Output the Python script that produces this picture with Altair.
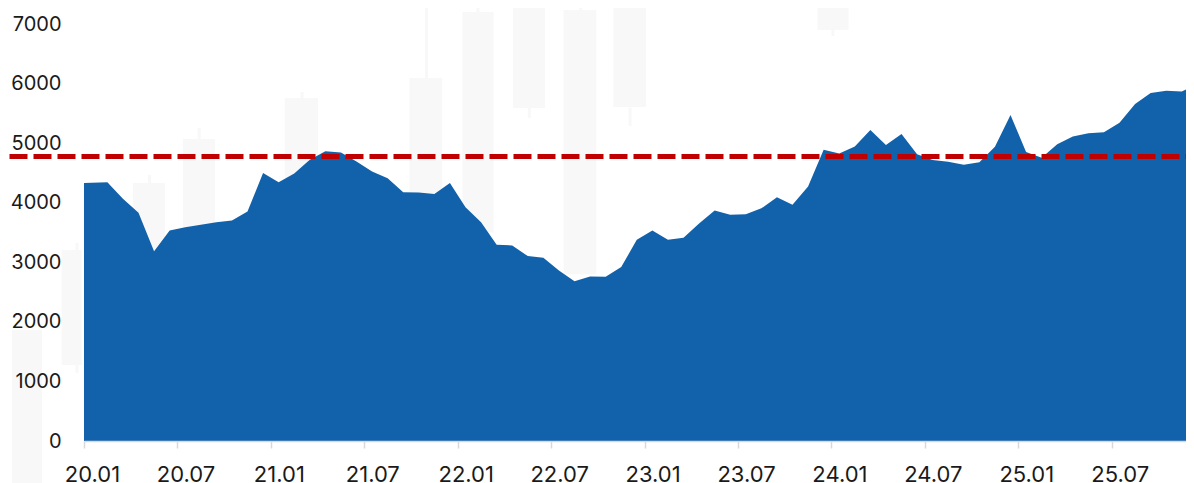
import altair as alt
import pandas as pd

# Monthly series, Dec 2019 .. Dec 2025
months = [str(p) for p in pd.period_range("2019-12", "2025-12", freq="M")]
values = [
    4330,                                                        # 2019-12
    4335, 4343, 4065, 3830, 3187, 3534, 3589, 3629, 3673, 3701, 3852, 4500,  # 2020
    4343, 4490, 4720, 4862, 4845, 4690, 4525, 4410, 4175, 4170, 4148, 4333,  # 2021
    3924, 3673, 3294, 3283, 3104, 3077, 2864, 2680, 2763, 2758, 2919, 3378,  # 2022
    3534, 3378, 3411, 3650, 3869, 3797, 3805, 3905, 4091, 3964, 4271, 4888,  # 2023
    4828, 4944, 5220, 4969, 5153, 4812, 4718, 4689, 4639, 4678, 4941, 5472,  # 2024
    4850, 4753, 4980, 5110, 5166, 5181, 5342, 5656, 5840, 5878, 5865, 5990,  # 2025
]
reference_level = 4776

# faint background candles (month-index units, value units)
candle_x0 = [-4.62, -1.43, 3.15, 6.36, 12.9, 20.9, 24.3, 27.55, 30.8, 34.0, 47.1]
candle_x1 = [-2.70, -0.15, 5.20, 8.41, 15.03, 23.0, 26.3, 29.6, 32.9, 36.1, 49.1]
body_lo = [-800, 1276, 2500, 3000, 3500, 3500, 3500, 5590, 2800, 5607, 6900]
body_hi = [1863, 3206, 4331, 5070, 5758, 6094, 7202, 7700, 7235, 7700, 7700]
wick_x = [-0.45, 4.2, 7.4, 14.0, 22.0, 25.3, 28.6, 31.9, 35.07, 41.4, 48.1]
wick_lo = [1142, 4300, 5000, 5700, 6000, 7100, 5422, 7200, 5288, 7269, 6799]
wick_hi = [3324, 4465, 5254, 5859, 7700, 7700, 5600, 7700, 5600, 7700, 7000]

tick_vals = list(range(0, 67, 6))

df = pd.DataFrame({"month": months, "value": values})
per = pd.PeriodIndex(df["month"], freq="M")
df["idx"] = (per.year - 2020) * 12 + (per.month - 1) + 0.5

candles = pd.DataFrame({"x0": candle_x0, "x1": candle_x1, "lo": body_lo, "hi": body_hi})
wicks = pd.DataFrame({"x": wick_x, "lo": wick_lo, "hi": wick_hi})

PLOT_W = 1102
xscale = alt.Scale(domain=[0, 70.77], nice=False, zero=False)
yscale = alt.Scale(domain=[0, 7000], nice=False)

x_axis = alt.Axis(
    values=tick_vals,
    labelExpr="(20 + floor(datum.value/12)) + '.' + (datum.value % 12 == 0 ? '01' : '07')",
    title=None, grid=False, domainColor="#d9d9d9", domainWidth=1.5,
    tickColor="#d9d9d9", tickWidth=1.5, tickSize=7, labelPadding=16,
    labelOffset=8, labelFlush=False, labelOverlap=False, zindex=1,
    labelFontSize=22,
)
y_axis = alt.Axis(
    values=list(range(0, 7001, 1000)), format="d", title=None, grid=False, domain=False,
    ticks=False, tickSize=0, labelPadding=23, labelFlush=False, zindex=1,
    labelFontSize=20,
)

candle_color = "#f8f8f9"

body = alt.Chart(candles).mark_rect(color=candle_color).encode(
    x=alt.X("x0:Q", scale=xscale, axis=x_axis),
    x2="x1:Q",
    y=alt.Y("lo:Q", scale=yscale, axis=y_axis),
    y2="hi:Q",
)
wick = alt.Chart(wicks).mark_rule(color=candle_color, strokeWidth=3).encode(
    x=alt.X("x:Q", scale=xscale, axis=x_axis),
    y=alt.Y("lo:Q", scale=yscale, axis=y_axis),
    y2="hi:Q",
)

area = alt.Chart(df).mark_area(color="#1262AB", opacity=1, clip=True, interpolate="linear").encode(
    x=alt.X("idx:Q", scale=xscale, axis=x_axis),
    y=alt.Y("value:Q", scale=yscale, axis=y_axis),
)

rule = alt.Chart(pd.DataFrame({"level": [reference_level]})).mark_rule(
    color="#C00000", strokeWidth=5, strokeDash=[18, 6], strokeCap="butt"
).encode(
    y=alt.Y("level:Q", scale=yscale, axis=y_axis),
    x=alt.value(-74.5),
    x2=alt.value(PLOT_W),
)

chart = alt.layer(body, wick, area, rule).properties(
    width=PLOT_W, height=417,
    padding={"left": 76, "top": 16, "right": 0, "bottom": 42},
    autosize=alt.AutoSizeParams(type="none"),
    background="white",
).configure_view(strokeWidth=0).configure_axis(
    labelFont="Inter", labelColor="#1a1a1a",
)

chart.save("out.html", embed_options={"renderer": "svg", "actions": False})
